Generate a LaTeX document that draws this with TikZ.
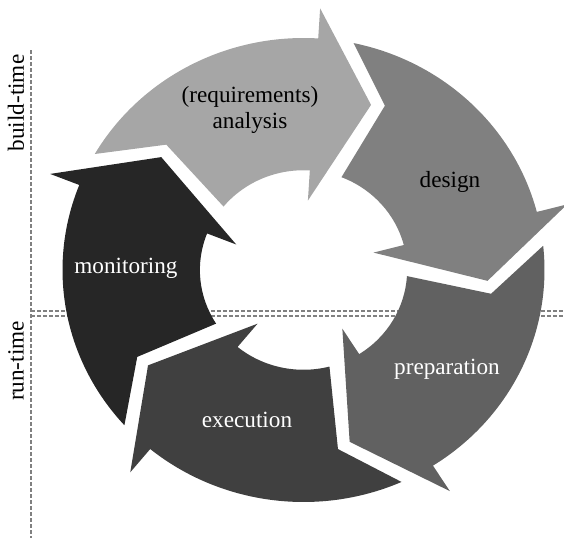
\documentclass[tikz,border=0pt]{standalone}
\usepackage{fontspec}
\setmainfont{Liberation Serif}
\newfontfamily\phasefont{Liberation Serif}

\begin{document}
\begin{tikzpicture}[x=0.5pt,y=0.5pt,
    every node/.style={font=\phasefont\fontsize{11.6}{13}\selectfont,align=center},
    timeline/.style={draw=black!50,line width=0.6pt,dash pattern=on 2pt off 1pt}]
    \useasboundingbox (0,0) rectangle (564,538);

    % build-time / run-time split
    \draw[timeline] (31,488) -- (31,0);
    \draw[timeline] (31,227) -- (564,227);
    \draw[timeline] (31,222) -- (564,222);

    % the five phase arrows, \h is the angle of the arrow head base
    \begin{scope}[shift={(303.5,268)},xscale=241,yscale=232]
        \foreach \h / \c in {86.5/black!35,14.5/black!50,-57.5/black!62,-129.5/black!75,158.5/black!85}
            \fill[\c] (\h+63.5:1) arc[start angle=\h+63.5,end angle=\h,radius=1]
                -- (\h:1.13) -- (\h-18:0.765) -- (\h:0.3) -- (\h:0.43)
                arc[start angle=\h,end angle=\h+54,radius=0.43]
                -- (\h+50:0.785) -- cycle;
    \end{scope}

    \node (analysis) at (250,428) {(requirements)\\analysis};
    \node (design) at (450,356) {design};
    \node[text=white] (preparation) at (447,169) {preparation};
    \node[text=white] (execution) at (247,118) {execution};
    \node[text=white] (monitoring) at (126,270) {monitoring};

    \node[rotate=90] (buildtime) at (16,435) {build-time};
    \node[rotate=90] (runtime) at (16,177) {run-time};
\end{tikzpicture}
\end{document}
